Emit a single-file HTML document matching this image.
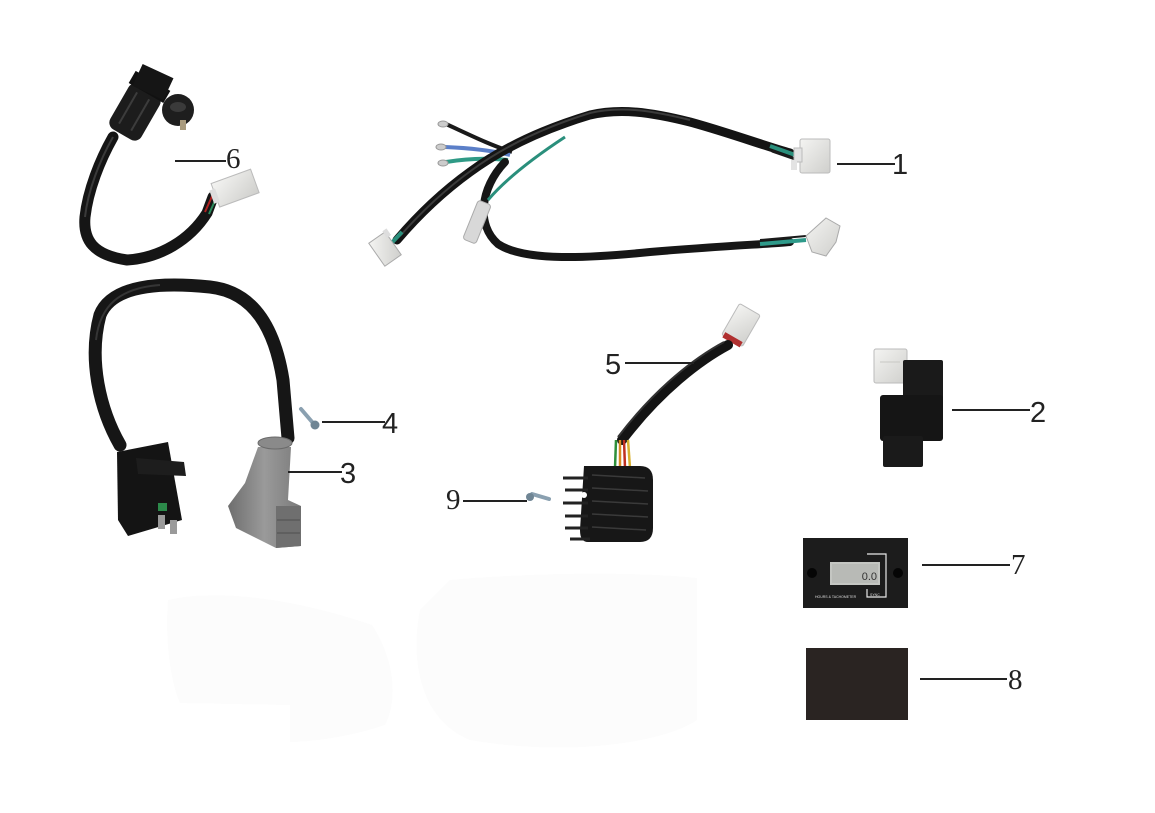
<!DOCTYPE html>
<html><head><meta charset="utf-8"><style>
html,body{margin:0;padding:0;background:#fff;}
svg{display:block;}
.s{font-family:"Liberation Sans",Arial,sans-serif;font-size:29px;fill:#222;}
.r{font-family:"Liberation Serif","Times New Roman",serif;font-size:29px;fill:#222;}
.ln{stroke:#222;stroke-width:2;}
</style></head><body>
<svg width="1155" height="813" viewBox="0 0 1155 813" xmlns="http://www.w3.org/2000/svg">
<defs>
<linearGradient id="gb" x1="0" y1="0" x2="1" y2="0"><stop offset="0" stop-color="#6e6e6e"/><stop offset="0.5" stop-color="#9a9a9a"/><stop offset="1" stop-color="#7a7a7a"/></linearGradient>
<linearGradient id="wc" x1="0" y1="0" x2="1" y2="1"><stop offset="0" stop-color="#f4f4f2"/><stop offset="1" stop-color="#cfcfcc"/></linearGradient>
</defs>
<rect width="1155" height="813" fill="#fff"/>
<path d="M168 600 C220 588 300 600 372 625 C395 660 398 700 385 725 C340 740 300 742 290 742 L290 705 L180 703 C170 680 165 640 168 600 Z" fill="#fcfcfc"/>
<path d="M450 580 C540 572 640 572 697 578 L697 720 C660 745 560 756 470 740 C420 720 410 660 420 610 Z" fill="#fcfcfc"/>

<!-- ===== Part 6: key switch ===== -->
<path d="M113 137 C100 160 88 190 85 217 C83 240 93 255 127 260 C160 258 190 240 207 213 L213 197" fill="none" stroke="#151515" stroke-width="11" stroke-linecap="round"/>
<path d="M113 137 C100 160 88 190 85 217" fill="none" stroke="#3a3a3a" stroke-width="2"/>
<line x1="205" y1="212" x2="214" y2="192" stroke="#b02020" stroke-width="2"/>
<line x1="209" y1="214" x2="218" y2="194" stroke="#2a8a5a" stroke-width="2"/>
<g transform="translate(234 188) rotate(-20)"><rect x="-20" y="-12" width="42" height="25" fill="url(#wc)" stroke="#bbb" stroke-width="1"/><rect x="-24" y="-6" width="6" height="14" fill="#ddd"/></g>
<g transform="translate(135 112) rotate(30)">
<rect x="-18" y="-26" width="36" height="52" rx="8" fill="#1c1c1c"/>
<rect x="-20" y="-36" width="40" height="14" fill="#111"/>
<line x1="-8" y1="-18" x2="-8" y2="18" stroke="#3c3c3c" stroke-width="2"/>
<line x1="6" y1="-18" x2="6" y2="18" stroke="#3c3c3c" stroke-width="2"/>
</g>
<rect x="136" y="70" width="34" height="24" fill="#151515" transform="rotate(25 153 82)"/>
<circle cx="178" cy="110" r="16" fill="#1e1e1e"/>
<ellipse cx="178" cy="107" rx="8" ry="5" fill="#3a3a3a"/>
<rect x="180" y="120" width="6" height="10" fill="#a99b7e"/>
<line class="ln" x1="175" y1="161" x2="226" y2="161"/>
<text class="r" x="226" y="168">6</text>

<!-- ===== Part 1: wire harness ===== -->
<path d="M446 124 C470 135 490 145 512 152" fill="none" stroke="#1a1a1a" stroke-width="4"/>
<path d="M445 147 C470 148 490 150 510 155" fill="none" stroke="#5b7fc8" stroke-width="4"/>
<path d="M446 162 C470 158 490 158 508 160" fill="none" stroke="#2f9a86" stroke-width="4"/>
<ellipse cx="443" cy="124" rx="5" ry="3" fill="#ccc" stroke="#999"/>
<ellipse cx="441" cy="147" rx="5" ry="3" fill="#ccc" stroke="#999"/>
<ellipse cx="443" cy="163" rx="5" ry="3" fill="#ccc" stroke="#999"/>
<path d="M397 240 C420 213 445 190 470 172 C500 150 540 130 590 115 C620 108 650 112 690 122 C730 133 765 146 790 153" fill="none" stroke="#141414" stroke-width="9" stroke-linecap="round"/>
<path d="M400 236 C423 210 447 188 472 170 C502 148 542 128 590 113 C620 106 650 110 690 120" fill="none" stroke="#3b3b3b" stroke-width="2"/>
<path d="M505 162 C480 188 476 225 498 244 C525 262 590 258 650 252 C720 246 770 244 790 242" fill="none" stroke="#161616" stroke-width="8" stroke-linecap="round"/>
<path d="M760 244 L806 240" stroke="#2e9a8a" stroke-width="4"/>
<path d="M760 240 L806 236" stroke="#1a1a1a" stroke-width="2"/>
<path d="M488 200 C505 180 530 160 565 137" fill="none" stroke="#2a8f7c" stroke-width="3"/>
<path d="M385 250 L402 232" stroke="#2a8f7c" stroke-width="4"/>
<path d="M770 146 L798 156" stroke="#2a8f7c" stroke-width="4"/>
<path d="M772 151 L798 160" stroke="#1a1a1a" stroke-width="3"/>
<g transform="translate(385 249) rotate(-35)"><rect x="-10" y="-14" width="20" height="28" fill="url(#wc)" stroke="#aaa"/><rect x="8" y="-16" width="5" height="8" fill="#ddd"/></g>
<g transform="translate(477 222) rotate(22)"><rect x="-7" y="-21" width="14" height="42" rx="3" fill="#d8d8d8" stroke="#aaa"/></g>
<g><rect x="800" y="139" width="30" height="34" rx="2" fill="url(#wc)" stroke="#bbb"/><rect x="794" y="148" width="8" height="14" fill="#e3e3e3" stroke="#bbb"/><rect x="791" y="160" width="6" height="10" fill="#e3e3e3"/></g>
<polygon points="806,236 826,218 840,226 836,242 826,256 812,252" fill="url(#wc)" stroke="#aaa"/>
<line class="ln" x1="837" y1="164" x2="895" y2="164"/>
<text class="s" x="892" y="174">1</text>

<!-- ===== Part 3/4: ignition coil ===== -->
<path d="M120 445 C100 410 88 360 100 315 C112 285 160 282 210 287 C255 292 275 330 283 380 L288 438" fill="none" stroke="#161616" stroke-width="13" stroke-linecap="round"/>
<path d="M96 340 C100 305 120 288 160 285" fill="none" stroke="#353535" stroke-width="2"/>
<polygon points="117,452 168,442 182,520 128,536 118,520" fill="#141414"/>
<polygon points="136,458 184,462 186,476 138,474" fill="#1d1d1d"/>
<rect x="158" y="503" width="9" height="8" fill="#2c8a4a"/>
<rect x="158" y="515" width="7" height="14" fill="#9a9a9a"/>
<rect x="170" y="520" width="7" height="14" fill="#9a9a9a"/>
<polygon points="258,447 291,447 288,500 301,506 301,546 276,548 236,528 228,506 245,483" fill="url(#gb)"/>
<ellipse cx="275" cy="443" rx="17" ry="6" fill="#8a8a8a" stroke="#6a6a6a"/>
<polygon points="276,506 301,506 301,546 276,548" fill="#6f6f6f"/>
<line x1="277" y1="520" x2="300" y2="520" stroke="#5a5a5a" stroke-width="1.5"/>
<line x1="277" y1="533" x2="300" y2="533" stroke="#5a5a5a" stroke-width="1.5"/>
<line x1="301" y1="409" x2="313" y2="423" stroke="#8aa0b0" stroke-width="4" stroke-linecap="round"/>
<circle cx="315" cy="425" r="4.5" fill="#6f8594"/>
<line class="ln" x1="322" y1="422" x2="385" y2="422"/>
<text class="s" x="382" y="433">4</text>
<line class="ln" x1="288" y1="472" x2="342" y2="472"/>
<text class="s" x="340" y="483">3</text>

<!-- ===== Part 5: regulator ===== -->
<g transform="translate(741 325) rotate(30)"><rect x="-12" y="-18" width="24" height="36" rx="2" fill="url(#wc)" stroke="#bbb"/><rect x="-10" y="14" width="20" height="6" fill="#b03030"/></g>
<path d="M728 345 C700 360 660 390 622 440" fill="none" stroke="#141414" stroke-width="10" stroke-linecap="round"/>
<path d="M724 342 C696 357 656 387 618 437" fill="none" stroke="#333" stroke-width="2"/>
<line x1="616" y1="440" x2="615" y2="468" stroke="#2f8f3a" stroke-width="2.5"/>
<line x1="620" y1="440" x2="620" y2="468" stroke="#d88a20" stroke-width="2.5"/>
<line x1="624" y1="440" x2="625" y2="468" stroke="#c03020" stroke-width="2.5"/>
<line x1="628" y1="440" x2="630" y2="468" stroke="#d8b030" stroke-width="2.5"/>
<path d="M584 466 L640 466 Q653 466 653 480 L653 528 Q653 542 640 542 L588 542 Q580 542 580 530 Z" fill="#171717"/>
<g stroke="#222" stroke-width="3">
<line x1="563" y1="478" x2="588" y2="478"/><line x1="565" y1="490" x2="588" y2="490"/>
<line x1="563" y1="503" x2="588" y2="503"/><line x1="565" y1="516" x2="588" y2="516"/>
<line x1="565" y1="528" x2="588" y2="528"/><line x1="570" y1="539" x2="590" y2="539"/>
</g>
<g stroke="#3a3a3a" stroke-width="1.5">
<line x1="592" y1="475" x2="645" y2="478"/><line x1="592" y1="488" x2="648" y2="491"/>
<line x1="592" y1="501" x2="648" y2="504"/><line x1="592" y1="514" x2="648" y2="517"/>
<line x1="592" y1="527" x2="646" y2="530"/>
</g>
<circle cx="584" cy="495" r="3" fill="#fff"/>
<line class="ln" x1="625" y1="363" x2="694" y2="363"/>
<text class="s" x="605" y="374">5</text>
<line x1="532" y1="494" x2="549" y2="499" stroke="#8aa0b0" stroke-width="4" stroke-linecap="round"/>
<circle cx="530" cy="497" r="4" fill="#6f8594"/>
<line class="ln" x1="463" y1="501" x2="527" y2="501"/>
<text class="r" x="446" y="509">9</text>

<!-- ===== Part 2: CDI ===== -->
<rect x="874" y="349" width="33" height="34" rx="2" fill="url(#wc)" stroke="#bbb"/>
<line x1="880" y1="362" x2="900" y2="362" stroke="#c8c8c4"/>
<rect x="903" y="360" width="40" height="40" rx="2" fill="#1a1a1a"/>
<rect x="880" y="395" width="63" height="46" rx="3" fill="#151515"/>
<rect x="883" y="436" width="40" height="31" rx="2" fill="#1a1a1a"/>
<line class="ln" x1="952" y1="410" x2="1030" y2="410"/>
<text class="s" x="1030" y="422">2</text>

<!-- ===== Part 7: hour meter ===== -->
<rect x="803" y="538" width="105" height="70" fill="#1c1c1c"/>
<circle cx="812" cy="573" r="5" fill="#050505"/>
<circle cx="898" cy="573" r="5" fill="#050505"/>
<rect x="830" y="562" width="50" height="23" fill="#c4c6c2"/>
<rect x="832" y="564" width="46" height="19" fill="#b8bab6"/>
<text x="877" y="580" text-anchor="end" style="font-family:'Liberation Sans',sans-serif;font-size:11px;fill:#333">0.0</text>
<polyline points="867,554 886,554 886,597 867,597 867,589" fill="none" stroke="#e8e8e8" stroke-width="1.2"/>
<text x="815" y="598" style="font-family:'Liberation Sans',sans-serif;font-size:3.5px;fill:#ddd">HOURS &amp; TACHOMETER</text>
<text x="870" y="596" style="font-family:'Liberation Sans',sans-serif;font-size:3.5px;fill:#ddd">SYNC</text>
<line class="ln" x1="922" y1="565" x2="1010" y2="565"/>
<text class="r" x="1011" y="574">7</text>

<!-- ===== Part 8: pad ===== -->
<rect x="806" y="648" width="102" height="72" fill="#2a2422"/>
<line class="ln" x1="920" y1="679" x2="1007" y2="679"/>
<text class="r" x="1008" y="689">8</text>
</svg>
</body></html>
